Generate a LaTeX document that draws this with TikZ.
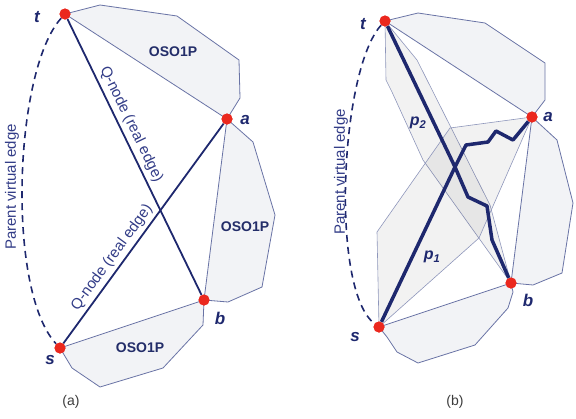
\documentclass[tikz,border=0pt]{standalone}
\usepackage{fontspec}
\setmainfont{Liberation Sans}
\definecolor{navy}{RGB}{30,40,110}
\definecolor{edgeblue}{RGB}{105,115,165}
\definecolor{polyfill}{RGB}{242,243,246}
\definecolor{textblue}{RGB}{50,60,135}
\definecolor{osotext}{RGB}{35,45,105}
\definecolor{dotred}{RGB}{235,40,30}
\definecolor{capgray}{RGB}{60,60,60}
\begin{document}
\begin{tikzpicture}[x=1pt,y=-1pt,
  poly/.style={draw=edgeblue, line width=0.8pt, fill=polyfill, line join=round},
  innerpoly/.style={draw=edgeblue!75, line width=0.6pt, fill=black, fill opacity=0.05, line join=round},
  qedge/.style={draw=navy, line width=1.8pt},
  thickp/.style={draw=navy, line width=3.5pt, line join=round},
  vdot/.style={circle, fill=dotred, inner sep=0pt, minimum size=11pt},
  vlab/.style={font=\fontsize{17}{17}\selectfont\bfseries\itshape, text=navy},
  oso/.style={font=\fontsize{14}{14}\selectfont\bfseries, text=osotext},
  qlab/.style={font=\fontsize{15}{15}\selectfont, text=textblue},
  plab/.style={font=\fontsize{16}{16}\selectfont\bfseries\itshape, text=navy},
  virt/.style={draw=navy, line width=1.6pt, dash pattern=on 7pt off 5pt},
  captxt/.style={font=\fontsize{14}{14}\selectfont, text=capgray}
]
\useasboundingbox (0,0) rectangle (576,418);

% ---------------- panel (a) ----------------
\coordinate (tApos) at (65,14);
\coordinate (aApos) at (227,119);
\coordinate (bApos) at (204,300);
\coordinate (sApos) at (60,348);

\draw[poly] (tApos) -- (100,5) -- (177,16) -- (239,60) -- (240,98) -- (aApos) -- cycle;
\draw[poly] (aApos) -- (253,142) -- (275,215) -- (262,287) -- (228,302) -- (bApos) -- cycle;
\draw[poly] (sApos) -- (bApos) -- (203,325) -- (163,368) -- (100,387) -- (72,368) -- cycle;

\node[oso] (osoA1) at (173,52) {OSO1P};
\node[oso] (osoA2) at (245,227) {OSO1P};
\node[oso] (osoA3) at (140,348) {OSO1P};

\node[vdot] (tA) at (tApos) {};
\node[vdot] (aA) at (aApos) {};
\node[vdot] (bA) at (bApos) {};
\node[vdot] (sA) at (sApos) {};

\draw[qedge] (tA) -- (bA) node[qlab, sloped, above, pos=0.40] {Q-node (real edge)};
\draw[qedge] (sA) -- (aA) node[qlab, sloped, above, pos=0.36] {Q-node (real edge)};
\draw[virt] (tA) .. controls (14,70) and (6,290) .. (sA);
\node[qlab, rotate=90] (pveA) at (12,187) {Parent virtual edge};

\node[vdot] at (tApos) {};
\node[vdot] at (aApos) {};
\node[vdot] at (bApos) {};
\node[vdot] at (sApos) {};

\node[vlab] (ltA) at (37,17) {t};
\node[vlab] (laA) at (245,120) {a};
\node[vlab] (lbA) at (220,318) {b};
\node[vlab] (lsA) at (50,360) {s};
\node[captxt] (capA) at (71,402) {(a)};

% ---------------- panel (b) ----------------
\coordinate (tBpos) at (385,21);
\coordinate (aBpos) at (532,117);
\coordinate (bBpos) at (511,283);
\coordinate (sBpos) at (379,327);
\coordinate (xB) at (455,167);

\draw[poly] (tBpos) -- (418,13) -- (485,23) -- (545,63) -- (545,100) -- (aBpos) -- cycle;
\draw[poly] (aBpos) -- (557,140) -- (573,203) -- (562,273) -- (533,285) -- (bBpos) -- cycle;
\draw[poly] (sBpos) -- (bBpos) -- (513,292) -- (508,308) -- (475,345) -- (418,363) -- (397,352) -- (387,337) -- cycle;

\draw[innerpoly] (tBpos) -- (417,60) -- (490,205) -- (bBpos) -- (423,160) -- (392,92) -- (386,80) -- cycle;
\draw[innerpoly] (sBpos) -- (377,232) -- (450,128) -- (aBpos) -- (479,238) -- cycle;

\node[vdot] (tB) at (tBpos) {};
\node[vdot] (aB) at (aBpos) {};
\node[vdot] (bB) at (bBpos) {};
\node[vdot] (sB) at (sBpos) {};

\draw[thickp] (tB) -- (xB) -- (468,197) -- (487,206) -- (492,240) -- (bB);
\draw[thickp] (sB) -- (xB) -- (466,145) -- (488,142) -- (496,131) -- (513,140) -- (aB);

\node[qlab, rotate=90] (pveB) at (341,172) {Parent virtual edge};
\draw[virt] (tB) .. controls (340,70) and (330,290) .. (sB);

\node[vdot] at (tBpos) {};
\node[vdot] at (aBpos) {};
\node[vdot] at (bBpos) {};
\node[vdot] at (sBpos) {};

\node[plab] (p2) at (418,123) {p\textsubscript{2}};
\node[plab] (p1) at (432,257) {p\textsubscript{1}};

\node[vlab] (ltB) at (363,24) {t};
\node[vlab] (laB) at (548,117) {a};
\node[vlab] (lbB) at (528,300) {b};
\node[vlab] (lsB) at (355,337) {s};
\node[captxt] (capB) at (455,402) {(b)};
\end{tikzpicture}
\end{document}
